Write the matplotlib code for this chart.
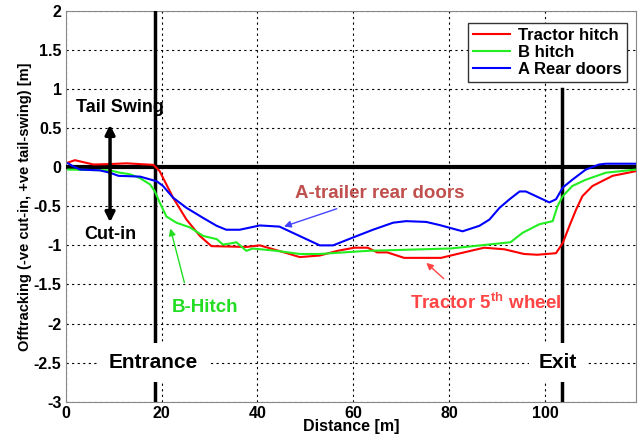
import matplotlib
matplotlib.use("Agg")
import matplotlib.pyplot as plt

plt.rcParams["font.family"] = ["Liberation Sans", "DejaVu Sans"]
plt.rcParams["mathtext.fontset"] = "custom"
plt.rcParams["mathtext.bf"] = "Liberation Sans:bold"

# Tractor hitch (red)
tractor_x = [0.5, 1.9, 5.8, 9.0, 12.7, 18.3, 19.6, 22.4, 25.2, 28.0, 30.4, 37.7, 40.5,
             46.7, 48.8, 53.0, 56.7, 60.2, 63.0, 65.0, 67.1, 70.6, 78.3, 81.7, 87.3,
             91.5, 95.6, 98.4, 102.3, 103.7, 105.1, 106.5, 107.8, 109.9, 114.1, 119.0]
tractor_y = [0.06, 0.09, 0.035, 0.04, 0.05, 0.03, -0.05, -0.39, -0.67, -0.88, -1.01, -1.02, -1.0,
             -1.11, -1.15, -1.13, -1.07, -1.03, -1.03, -1.09, -1.09, -1.16, -1.16, -1.11, -1.03,
             -1.05, -1.11, -1.12, -1.10, -0.97, -0.75, -0.54, -0.37, -0.24, -0.11, -0.05]

# B hitch (green)
bhitch_x = [0.5, 9.2, 11.3, 13.4, 15.5, 17.6, 18.6, 19.6, 21.0, 23.1, 25.9, 28.7, 31.5,
            32.8, 34.9, 35.6, 37.7, 39.0, 44.0, 48.8, 53.0, 63.0, 80.3, 92.8, 95.3,
            98.8, 101.6, 102.6, 103.7, 105.7, 108.5, 112.7, 119.0]
bhitch_y = [-0.03, -0.04, -0.07, -0.09, -0.14, -0.22, -0.31, -0.45, -0.63, -0.71, -0.77, -0.88, -0.92,
            -0.99, -0.97, -0.96, -1.07, -1.04, -1.07, -1.11, -1.11, -1.07, -1.04, -0.96, -0.84,
            -0.73, -0.69, -0.50, -0.37, -0.24, -0.16, -0.07, -0.03]

# A rear doors (blue)
adoors_x = [0.5, 1.6, 3.0, 7.1, 9.2, 11.0, 15.5, 19.0, 20.3, 22.4, 25.2, 28.7, 31.5, 33.5,
            36.3, 40.5, 44.6, 48.8, 53.0, 55.8, 59.9, 64.1, 68.3, 71.0, 75.2, 78.0,
            82.8, 86.3, 88.4, 90.5, 92.6, 94.7, 96.0, 98.8, 100.9, 102.3, 103.7, 105.7,
            108.5, 111.3, 112.7, 119.0]
adoors_y = [0.05, 0.01, -0.03, -0.04, -0.07, -0.11, -0.12, -0.18, -0.24, -0.39, -0.52, -0.65, -0.75, -0.80,
            -0.80, -0.745, -0.76, -0.88, -1.0, -1.0, -0.90, -0.80, -0.71, -0.69, -0.70, -0.74,
            -0.82, -0.75, -0.67, -0.52, -0.41, -0.31, -0.31, -0.39, -0.45, -0.41, -0.26, -0.16,
            -0.03, 0.035, 0.045, 0.045]

entrance_x = 18.6
exit_x = 103.6
x_ticks = [0, 20, 40, 60, 80, 100]
y_ticks = [-3, -2.5, -2, -1.5, -1, -0.5, 0, 0.5, 1, 1.5, 2]

fig = plt.figure(figsize=(6.38, 4.38), dpi=100)
ax = fig.add_axes([0.103, 0.083, 0.894, 0.892])

ax.plot(tractor_x, tractor_y, color="#ff0000", lw=1.5, label="Tractor hitch", zorder=4)
ax.plot(bhitch_x, bhitch_y, color="#22ee22", lw=1.5, label="B hitch", zorder=4)
ax.plot(adoors_x, adoors_y, color="#0000ff", lw=1.5, label="A Rear doors", zorder=4)

ax.axhline(0, color="black", lw=3, zorder=3)
ax.plot([entrance_x, entrance_x], [-3, 2], color="black", lw=2.5, zorder=3)
ax.plot([exit_x, exit_x], [-3, 1.0], color="black", lw=2.5, zorder=3)

ax.set_xlim(0, 119)
ax.set_ylim(-3, 2)
ax.set_xticks(x_ticks)
ax.set_yticks(y_ticks)
ax.set_yticklabels([f"{v:g}" for v in y_ticks])
ax.grid(True, color="black", ls=(0, (2, 3)), lw=0.8)
ax.tick_params(labelsize=11.5, length=0, pad=3)
for lab in ax.get_xticklabels() + ax.get_yticklabels():
    lab.set_fontweight("bold")
for sp in ax.spines.values():
    sp.set_color("#888888")
    sp.set_linewidth(0.8)

ax.set_xlabel("Distance [m]", fontsize=11.5, fontweight="bold", labelpad=-1)
ax.set_ylabel("Offtracking (-ve cut-in, +ve tail-swing) [m]", fontsize=10.5, fontweight="bold", labelpad=1)

leg = ax.legend(loc="upper right", fontsize=12, handlelength=2.2, handletextpad=0.5,
                borderpad=0.3, labelspacing=0.1, fancybox=False, framealpha=1,
                bbox_to_anchor=(0.998, 0.99))
leg.get_frame().set_edgecolor("#333333")
leg.get_frame().set_linewidth(1.0)
for t in leg.get_texts():
    t.set_fontweight("bold")

# Tail swing / cut-in annotation
ax.annotate("", xy=(9.25, 0.58), xytext=(9.25, -0.74),
            arrowprops=dict(arrowstyle="<|-|>", color="black", lw=2.5, mutation_scale=14), zorder=5)
ax.text(11.3, 0.76, "Tail Swing", fontsize=13, fontweight="bold", ha="center", va="center", zorder=6)
ax.text(9.3, -0.86, "Cut-in", fontsize=13, fontweight="bold", ha="center", va="center")

white = dict(facecolor="white", edgecolor="none", pad=7)
ax.text(18.3, -2.5, "Entrance", fontsize=15, fontweight="bold", ha="center", va="center",
        bbox=white, zorder=6)
ax.text(102.7, -2.5, "Exit", fontsize=15, fontweight="bold", ha="center", va="center",
        bbox=white, zorder=6)

# callouts
ax.text(65.5, -0.34, "A-trailer rear doors", fontsize=13.5, fontweight="bold", color="#c0504d",
        ha="center", va="center", zorder=6)
ax.annotate("", xy=(45.0, -0.77), xytext=(57.1, -0.52),
            arrowprops=dict(arrowstyle="-|>", color="#4444ff", lw=1, mutation_scale=10), zorder=6)

ax.text(29.0, -1.79, "B-Hitch", fontsize=13.5, fontweight="bold", color="#22dd22",
        ha="center", va="center", zorder=6)
ax.annotate("", xy=(21.7, -0.75), xytext=(24.9, -1.51),
            arrowprops=dict(arrowstyle="-|>", color="#22dd22", lw=1, mutation_scale=10), zorder=6)

ax.text(87.6, -1.73, "Tractor 5$^{\\mathbf{th}}$ wheel", fontsize=13.5, fontweight="bold",
        color="#ff4444", ha="center", va="center", zorder=6)
ax.annotate("", xy=(74.8, -1.2), xytext=(79.3, -1.45),
            arrowprops=dict(arrowstyle="-|>", color="#ff4444", lw=1, mutation_scale=10), zorder=6)

fig.savefig("out.png", dpi=100)
